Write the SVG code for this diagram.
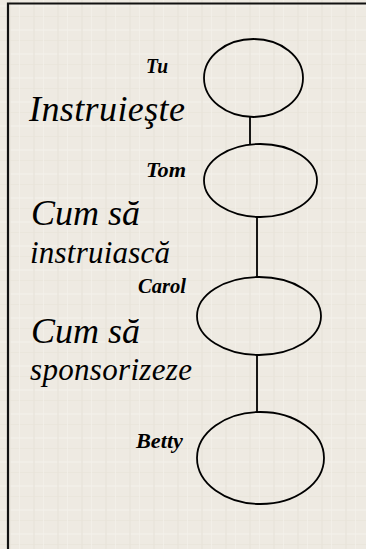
<svg xmlns="http://www.w3.org/2000/svg" width="366" height="549" viewBox="0 0 366 549">
<defs>
<pattern id="tex" width="24" height="24" patternUnits="userSpaceOnUse">
<rect width="24" height="24" fill="#EEEAE2"/>
<rect x="0" y="5" width="24" height="2" fill="#F3F0EA" opacity="0.7"/>
<rect x="9" y="0" width="2" height="24" fill="#E8E3DA" opacity="0.6"/>
<rect x="0" y="16" width="24" height="1" fill="#E7E2D9" opacity="0.6"/>
<rect x="19" y="0" width="1" height="24" fill="#F4F1EB" opacity="0.7"/>
</pattern>
</defs>
<style>
.node{fill:none;stroke:#000;stroke-width:1.8}
.edge{stroke:#000;stroke-width:1.8;fill:none}
.name{font-family:'Liberation Serif','Times New Roman',serif;font-style:italic;font-weight:bold;font-size:22px;fill:#000}
.big{font-family:'Liberation Serif','Times New Roman',serif;font-style:italic;font-size:36px;fill:#000}
.mid{font-family:'Liberation Serif','Times New Roman',serif;font-style:italic;font-size:31px;fill:#000}
</style>
<rect width="366" height="549" fill="url(#tex)"/>
<path d="M8 549 V3.5 H366" fill="none" stroke="#111" stroke-width="2.2"/>
<g id="connectors">
<line class="edge" x1="250" y1="117" x2="250" y2="145"/>
<line class="edge" x1="257" y1="217" x2="257" y2="277"/>
<line class="edge" x1="257" y1="355" x2="257" y2="412"/>
</g>
<g id="node-tu">
<ellipse class="node" cx="253.5" cy="78" rx="49.5" ry="39"/>
<text class="name" x="146" y="73" textLength="22" lengthAdjust="spacingAndGlyphs">Tu</text>
</g>
<g id="node-tom">
<ellipse class="node" cx="260.5" cy="180.5" rx="56.5" ry="36.5"/>
<text class="name" x="146" y="177" textLength="40" lengthAdjust="spacingAndGlyphs">Tom</text>
</g>
<g id="node-carol">
<ellipse class="node" cx="259" cy="316" rx="62" ry="39"/>
<text class="name" x="138" y="293" textLength="48" lengthAdjust="spacingAndGlyphs">Carol</text>
</g>
<g id="node-betty">
<ellipse class="node" cx="260.5" cy="458" rx="63.5" ry="46"/>
<text class="name" x="136" y="448" textLength="47" lengthAdjust="spacingAndGlyphs">Betty</text>
</g>
<g id="labels">
<text class="big" x="29" y="121" textLength="156">Instruieşte</text>
<text class="big" x="31" y="225" textLength="109">Cum să</text>
<text class="mid" x="30" y="263" textLength="140">instruiască</text>
<text class="big" x="31" y="343" textLength="109">Cum să</text>
<text class="mid" x="30" y="380" textLength="162">sponsorizeze</text>
</g>
</svg>
